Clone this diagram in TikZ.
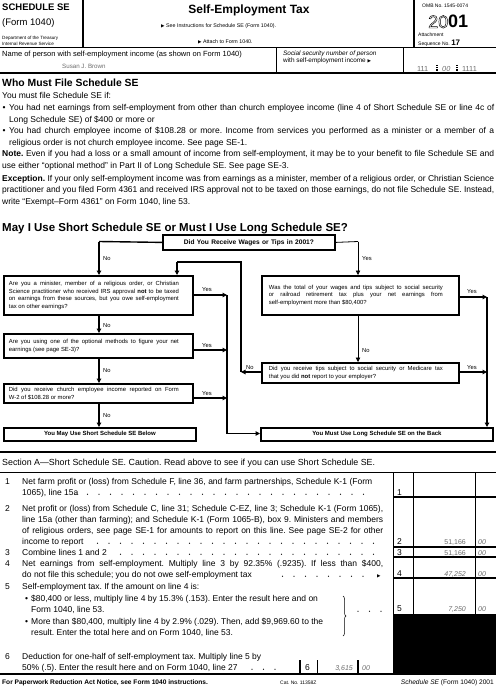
\documentclass[tikz,border=0pt]{standalone}
\usepackage{fontspec}
\setmainfont{Liberation Sans}
\newfontfamily\dejavu{DejaVu Sans}
\usetikzlibrary{arrows.meta,decorations.pathreplacing}
\frenchspacing
\newlength\natw
\newcommand\FL[2]{\settowidth\natw{#2}\ifdim\natw>#1pt\relax\resizebox{#1pt}{\height}{#2}\else\makebox[#1pt][s]{#2}\fi}
\newcommand\btext[3]{\parbox{#1pt}{\fontsize{5.9}{7.6}\selectfont\parindent=0pt\leftskip=#2pt\relax #3\par}}
\newcommand\tri{{\dejavu\fontsize{4.5}{5}\selectfont\char"25B6}}
\newcommand\outl[1]{\special{pdf:literal direct 1 Tr 0.45 w}#1\special{pdf:literal direct 0 Tr}}
\definecolor{fillin}{gray}{0.42}
\begin{document}
\begin{tikzpicture}[x=1pt,y=-1pt,
  tx/.style={anchor=base west,inner sep=0pt,font=\fontsize{8.5}{9}\selectfont},
  sm/.style={anchor=base west,inner sep=0pt,font=\fontsize{5}{6}\selectfont},
  lab/.style={anchor=base west,inner sep=0pt,font=\fontsize{5.8}{7}\selectfont},
  amt/.style={anchor=base east,inner sep=0pt,font=\fontsize{7}{8}\selectfont,text=fillin},
  cts/.style={anchor=base west,inner sep=0pt,font=\fontsize{7}{8}\selectfont\itshape,text=fillin},
  yr/.style={anchor=base west,inner sep=0pt,font=\fontsize{18}{18}\selectfont},
  fbox/.style={draw,line width=1.8pt,inner sep=0pt,anchor=north west},
  conn/.style={line width=1.4pt},
  thinconn/.style={line width=0.8pt},
  arr/.style={-{Triangle[length=4.5pt,width=4.5pt]}},
  dot/.style={radius=0.65},
]
\useasboundingbox (0,0) rectangle (496,687);

% ---------------- header ----------------
\node[tx,font=\fontsize{9.5}{10}\selectfont\bfseries] (sch) at (2,10.5) {SCHEDULE SE};
\node[tx,font=\fontsize{9.5}{10}\selectfont] (frm) at (2,26) {(Form 1040)};
\node[sm,font=\fontsize{4.6}{5}\selectfont] (dept) at (2,40) {Department of the Treasury};
\node[sm,font=\fontsize{4.6}{5}\selectfont] (irs) at (2,45.5) {Internal Revenue Service};
\draw[line width=2pt] (83,0) -- (83,48);
\node[anchor=base,inner sep=0pt,font=\fontsize{12}{12}\selectfont\bfseries] (title) at (249,13.5) {Self-Employment Tax};
\node[sm,font=\fontsize{5.3}{6}\selectfont] (see) at (161,28) {\tri\ See Instructions for Schedule SE (Form 1040).};
\node[sm,font=\fontsize{5.3}{6}\selectfont] (att) at (198,44) {\tri\ Attach to Form 1040.};
\draw[line width=2pt] (414,0) -- (414,48);
\node[sm] (omb) at (422,7.5) {OMB No. 1545-0074};
\node[yr] (yr) at (428,28) {\outl{20}{\bfseries 01}};
\node[sm] (attm) at (418,37) {Attachment};
\node[sm] (seq) at (418,45.5) {Sequence No. {\fontsize{8}{8}\selectfont\bfseries 17}};
\draw[line width=1pt] (0,48) -- (496,48);
\node[tx,font=\fontsize{7.5}{8}\selectfont] (namel) at (2,56.5) {Name of person with self-employment income (as shown on Form 1040)};
\node[tx,font=\fontsize{6.2}{7}\selectfont,text=fillin] (nm) at (62,68.5) {Susan J. Brown};
\draw[line width=1pt] (276,48) -- (276,73);
\node[sm,font=\fontsize{6.4}{7}\selectfont] (ssl1) at (283,56) {\textit{Social security number of person}};
\node[sm,font=\fontsize{6.4}{7}\selectfont] (ssl2) at (283,62.5) {with self-employment income \tri};
\draw[line width=1pt] (403,48) -- (403,73);
\node[tx,font=\fontsize{7.3}{8}\selectfont,text=fillin] (ss1) at (417,72) {111};
\node[tx,font=\fontsize{7.3}{8}\selectfont\itshape,text=fillin] (ss2) at (442,72) {00};
\node[tx,font=\fontsize{7.3}{8}\selectfont,text=fillin] (ss3) at (462,72) {1111};
\draw[line width=2pt,dash pattern=on 1.3pt off 0.9pt] (437,65) -- (437,73);
\draw[line width=2pt,dash pattern=on 1.3pt off 0.9pt] (456.5,65) -- (456.5,73);
\draw[line width=2pt] (0,73.5) -- (496,73.5);

% ---------------- who must file ----------------
\node[tx,font=\fontsize{10.4}{12}\selectfont\bfseries] (who) at (2,87) {Who Must File Schedule SE};
\node[tx] (l0) at (2,99) {You must file Schedule SE if:};
\node[tx] (bu1) at (2.5,111) {\textbullet};
\node[tx] (l1) at (9,111) {\FL{485}{You had net earnings from self-employment from other than church employee income (line 4 of Short Schedule SE or line 4c of}};
\node[tx] (l2) at (9,122.5) {Long Schedule SE) of \$400 or more or};
\node[tx] (bu2) at (2.5,134) {\textbullet};
\node[tx] (l3) at (9,134) {\FL{485}{You had church employee income of \$108.28 or more. Income from services you performed as a minister or a member of a}};
\node[tx] (l4) at (9,145.5) {religious order is not church employee income. See page SE-1.};
\node[tx] (l5) at (2,157) {\FL{492}{\textbf{Note.} Even if you had a loss or a small amount of income from self-employment, it may be to your benefit to file Schedule SE and}};
\node[tx] (l6) at (2,168.5) {use either “optional method” in Part II of Long Schedule SE. See page SE-3.};
\node[tx] (l7) at (2,181) {\FL{492}{\textbf{Exception.} If your only self-employment income was from earnings as a minister, member of a religious order, or Christian Science}};
\node[tx] (l8) at (2,192.5) {\FL{492}{practitioner and you filed Form 4361 and received IRS approval not to be taxed on those earnings, do not file Schedule SE. Instead,}};
\node[tx] (l9) at (2,204) {write “Exempt–Form 4361” on Form 1040, line 53.};

% ---------------- flowchart ----------------
\node[tx,font=\fontsize{11.5}{13}\selectfont\bfseries] (may) at (2,231) {May I Use Short Schedule SE or Must I Use Long Schedule SE?};

\node[fbox,minimum width=172pt,minimum height=15pt] (q0) at (162,234)
  {\fontsize{6.6}{7}\selectfont\bfseries\FL{130}{Did You Receive Wages or Tips in 2001?}};
\node[fbox,minimum width=189pt,minimum height=39pt] (b1) at (3,275)
  {\btext{189}{5}{\FL{170}{Are you a minister, member of a religious order, or Christian}\\
   \FL{170}{Science practitioner who received IRS approval \textbf{not} to be taxed}\\
   \FL{170}{on earnings from these sources, but you owe self-employment}\\
   tax on other earnings?}};
\node[fbox,minimum width=189pt,minimum height=24pt] (b2) at (3,333)
  {\btext{189}{5}{\FL{170}{Are you using one of the optional methods to figure your net}\\
   earnings (see page SE-3)?}};
\node[fbox,minimum width=189pt,minimum height=19pt] (b3) at (3,383)
  {\btext{189}{5}{\FL{170}{Did you receive church employee income reported on Form}\\
   W-2 of \$108.28 or more?}};
\node[fbox,minimum width=192pt,minimum height=13pt] (sh) at (3,427)
  {\fontsize{6}{7}\selectfont\bfseries You May Use Short Schedule SE Below};
\node[fbox,minimum width=197pt,minimum height=39pt] (r1) at (261,275)
  {\btext{197}{7}{\FL{174}{Was the total of your wages and tips subject to social security}\\
   \FL{174}{or railroad retirement tax plus your net earnings from}\\
   self-employment more than \$80,400?}};
\node[fbox,minimum width=197pt,minimum height=20pt] (r2) at (261,362)
  {\btext{197}{7}{\FL{174}{Did you receive tips subject to social security or Medicare tax}\\
   that you did \textbf{not} report to your employer?}};
\node[fbox,minimum width=232pt,minimum height=13pt] (lg) at (260,427)
  {\fontsize{6}{7}\selectfont\bfseries You Must Use Long Schedule SE on the Back};

\coordinate (qL) at (99,241.5);
\coordinate (qR) at (358,241.5);
\draw[conn] (q0.west) -- (qL);
\draw[conn,arr] (qL) -- (qL |- b1.north);
\node[lab] (no0) at (103,260) {No};
\draw[thinconn] (q0.east) -- (qR);
\draw[thinconn,arr] (qR) -- (qR |- r1.north);
\node[lab] (yes0) at (362,260) {Yes};

\draw[conn,arr] (qL |- b1.south) -- (qL |- b2.north);
\node[lab] (no1) at (103,327) {No};
\draw[conn,arr] (qL |- b2.south) -- (qL |- b3.north);
\node[lab] (no2) at (103,372) {No};
\draw[conn,arr] (qL |- b3.south) -- (qL |- sh.north);
\node[lab] (no3) at (103,417) {No};

\coordinate (c1) at (227,295);
\coordinate (c2) at (227,350);
\coordinate (c3) at (227,398);
\coordinate (c4) at (227,433.5);
\draw[conn,arr] (b1.east |- c1) -- (c1);
\node[lab] (yes1) at (202,291) {Yes};
\draw[conn,arr] (b2.east |- c2) -- (c2);
\node[lab] (yes2) at (202,347) {Yes};
\draw[conn,arr] (b3.east |- c3) -- (c3);
\node[lab] (yes3) at (202,395) {Yes};
\draw[conn] (c1) -- (c4);
\draw[conn,arr] (c4) -- (c4 -| lg.west);

\coordinate (d1) at (487,297);
\coordinate (d2) at (487,372);
\draw[conn,arr] (r1.east |- d1) -- (d1);
\node[lab] (yes4) at (467,293) {Yes};
\draw[conn,arr] (d1) -- (d1 |- lg.north);
\draw[thinconn,arr] (qR |- r1.south) -- (qR |- r2.north);
\node[lab] (no4) at (362,352) {No};
\draw[conn,arr] (r2.east |- d2) -- (d2);
\node[lab] (yes5) at (467,369) {Yes};

\coordinate (e1) at (241,372);
\coordinate (e2) at (241,262);
\coordinate (e3) at (177,262);
\draw[conn,arr] (r2.west |- e1) -- (e1);
\node[lab] (no5) at (246,369.5) {No};
\draw[conn] (e1) -- (e2) -- (e3);
\draw[conn,arr] (e3) -- (e3 |- b1.north);

% ---------------- section A ----------------
\draw[line width=2pt] (0,452) -- (496,452);
\node[tx,font=\fontsize{8.85}{10}\selectfont] (secA) at (2,465.5) {Section A—Short Schedule SE. Caution. Read above to see if you can use Short Schedule SE.};
\draw[line width=0.8pt] (0,472) -- (496,472);

% right column grid
\draw[line width=0.8pt] (393,472) -- (393,614);
\draw[line width=0.8pt] (413,472) -- (413,614);
\draw[line width=0.8pt] (475,472) -- (475,614);
\foreach \yy in {497,547,557,578}
  \draw[line width=1.5pt] (393,\yy) -- (496,\yy);
\fill (393,614) rectangle (496,673);

% line 1
\node[tx] (n1) at (5,484) {1};
\node[tx] (i1a) at (22,484) {\FL{350}{Net farm profit or (loss) from Schedule F, line 36, and farm partnerships, Schedule K-1 (Form}};
\node[tx] (i1b) at (22,495) {1065), line 15a};
\foreach \x in {76,87.5,...,372} \fill (\x,494.3) circle[dot];
\node[tx] (r1n) at (397,495) {1};

% line 2
\node[tx] (n2) at (5,511) {2};
\node[tx] (i2a) at (22,511) {\FL{361}{Net profit or (loss) from Schedule C, line 31; Schedule C-EZ, line 3; Schedule K-1 (Form 1065),}};
\node[tx] (i2b) at (22,522) {\FL{361}{line 15a (other than farming); and Schedule K-1 (Form 1065-B), box 9. Ministers and members}};
\node[tx] (i2c) at (22,533) {\FL{361}{of religious orders, see page SE-1 for amounts to report on this line. See page SE-2 for other}};
\node[tx] (i2d) at (22,544) {income to report};
\foreach \x in {97.5,109,...,383} \fill (\x,543.3) circle[dot];
\node[tx] (r2n) at (397,544) {2};
\node[amt] (a2) at (466,544) {51,166};
\node[cts] (c2t) at (478,544) {00};

% line 3
\node[tx] (n3) at (5,555) {3};
\node[tx] (i3) at (22,555) {Combine lines 1 and 2};
\foreach \x in {120.5,132,...,383} \fill (\x,554.3) circle[dot];
\node[tx] (r3n) at (397,555) {3};
\node[amt] (a3) at (466,555) {51,166};
\node[cts] (c3t) at (478,555) {00};

% line 4
\node[tx] (n4) at (5,566) {4};
\node[tx] (i4a) at (22,566) {\FL{361}{Net earnings from self-employment. Multiply line 3 by 92.35\% (.9235). If less than \$400,}};
\node[tx] (i4b) at (22,577) {do not file this schedule; you do not owe self-employment tax};
\foreach \x in {282.5,294,...,372} \fill (\x,576.3) circle[dot];
\node[tx] (i4t) at (377,577) {\tri};
\node[tx] (r4n) at (397,576) {4};
\node[amt,font=\fontsize{7}{8}\selectfont\itshape] (a4) at (466,576) {47,252};
\node[cts] (c4t) at (478,576) {00};

% line 5
\node[tx] (n5) at (5,589) {5};
\node[tx] (i5) at (22,589) {Self-employment tax. If the amount on line 4 is:};
\node[tx] (bu5a) at (25,601) {\textbullet};
\node[tx] (i5a) at (31,601) {\$80,400 or less, multiply line 4 by 15.3\% (.153). Enter the result here and on};
\node[tx] (i5b) at (31,612) {Form 1040, line 53.};
\node[tx] (bu5b) at (25,624) {\textbullet};
\node[tx] (i5c) at (31,624) {More than \$80,400, multiply line 4 by 2.9\% (.029). Then, add \$9,969.60 to the};
\node[tx] (i5d) at (31,635) {result. Enter the total here and on Form 1040, line 53.};
\draw[line width=0.5pt,decorate,decoration={brace,amplitude=3pt}] (343,596) -- (343,636);
\foreach \x in {358,369.5,381} \fill (\x,611.3) circle[dot];
\node[tx] (r5n) at (397,611) {5};
\node[amt,font=\fontsize{7}{8}\selectfont\itshape] (a5) at (466,611) {7,250};
\node[cts] (c5t) at (478,611) {00};

% line 6
\node[tx] (n6) at (5,659) {6};
\node[tx] (i6a) at (22,659) {Deduction for one-half of self-employment tax. Multiply line 5 by};
\node[tx] (i6b) at (22,670) {50\% (.5). Enter the result here and on Form 1040, line 27};
\foreach \x in {252,263.5,275} \fill (\x,669.3) circle[dot];
\draw[line width=1.5pt] (300,660) -- (300,673);
\draw[line width=0.8pt] (317,660) -- (317,673);
\draw[line width=1.5pt] (358,660) -- (358,673);
\node[tx] (r6n) at (305,670) {6};
\node[amt,font=\fontsize{7}{8}\selectfont\itshape] (a6) at (353,670) {3,615};
\node[cts] (c6t) at (362,670) {00};

% footer
\draw[line width=2pt] (0,673.5) -- (496,673.5);
\node[tx,font=\fontsize{6.6}{8}\selectfont\bfseries] (f1) at (2,684) {For Paperwork Reduction Act Notice, see Form 1040 instructions.};
\node[sm] (f2) at (280,684) {Cat. No. 11358Z};
\node[anchor=base east,inner sep=0pt,font=\fontsize{6.6}{8}\selectfont] (f3) at (494,684) {\textit{Schedule SE} (Form 1040) 2001};
\end{tikzpicture}
\end{document}
